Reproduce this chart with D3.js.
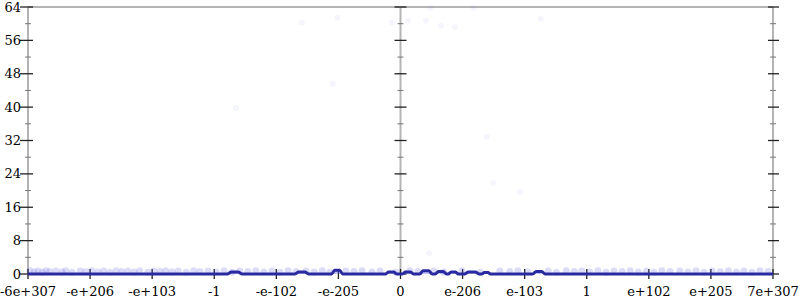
<!DOCTYPE html>
<html><head><meta charset="utf-8">
<script src="https://cdn.jsdelivr.net/npm/d3@7"></script>
<style>body{margin:0;background:#fff}svg{display:block}text{font-family:"DejaVu Serif",serif;font-size:13px;fill:#000}</style>
</head><body><svg id="c" width="800" height="300"></svg>
<script>
// x positions are given in tick-index units of the float-bit scale (0 = -6e+307 ... 12 = 7e+307)
const xTickLabels = ["-6e+307","-e+206","-e+103","-1","-e-102","-e-205","0","e-206","e-103","1","e+102","e+205","7e+307"];
const yMajorTicks = [0,8,16,24,32,40,48,56,64];
const yMinorTicks = [4,12,20,28,36,44,52,60];

// histogram bumps: [center, halfWidth, count]
const bumps = [
  [3.33,0.12,0.5],[4.41,0.11,0.5],[4.98,0.09,0.9],[5.85,0.09,0.5],[6.12,0.09,0.5],
  [6.41,0.1,0.8],[6.65,0.09,0.6],[6.85,0.08,0.5],[7.15,0.12,0.5],[7.38,0.07,0.35],[8.23,0.1,0.6]
];
// raw sample points: [x, y]
const outliers = [
  [3.35,39.8],[4.91,45.6],[7.39,32.9],[7.49,21.8],[7.93,19.7],[5.86,60.2],[6.12,60.7],
  [6.41,60.7],[6.65,59.5],[6.88,59.2],[6.48,63.8],[7.18,63.8],[4.41,60.2],[4.98,61.4],
  [8.26,61.2],[6.46,5.0]
];
const bandX = [0.03,0.10,0.16,0.23,0.29,0.35,0.45,0.55,0.61,0.71,0.84,0.93,1.03,1.13,1.22,1.32,1.42,1.51,1.61,1.71,1.80,1.93,2.03,2.13,2.22,2.32,2.42,2.55,2.67,2.77,2.90,3.03,3.16,3.29,3.41,3.54,3.67,3.80,3.93,4.06,4.19,4.32,4.48,4.61,4.74,4.86,5.12,5.25,5.38,5.54,5.67,5.93,6.15,6.28,6.54,6.70,6.99,7.28,7.60,7.76,7.89,8.05,8.38,8.51,8.67,8.80,8.92,9.05,9.18,9.31,9.44,9.57,9.70,9.83,9.96,10.08,10.21,10.34,10.50,10.63,10.76,10.89,11.02,11.15,11.28,11.41,11.53,11.66,11.79,11.92];
const bandY = [0.8,0.5,0.7,0.4,0.8,0.6,0.7,0.5,0.8,0.4,0.7,0.6,0.8,0.5,0.7,0.4,0.8,0.6,0.7,0.5,0.8,0.4,0.7,0.6,0.8,0.5,0.7,0.4,0.8,0.6,0.7,0.5,0.8,0.4,0.7,0.6,0.8,0.5,0.7,0.4,0.8,0.6,0.7,0.5,0.8,0.4,0.7,0.6,0.8,0.5,0.7,0.4,0.8,0.6,0.7,0.5,0.8,0.4,0.7,0.6,0.8,0.5,0.7,0.4,0.8,0.6,0.7,0.5,0.8,0.4,0.7,0.6,0.8,0.5,0.7,0.4,0.8,0.6,0.7,0.5,0.8,0.4,0.7,0.6,0.8,0.5,0.7,0.4,0.8,0.6];

const svg = d3.select("#c");
const L=28, R=773, T=7, B=274;
const x = d3.scaleLinear().domain([0,12]).range([L,R]);
const y = d3.scaleLinear().domain([0,64]).range([B,T]);
const grey="#b4b4b4";

// frame lines
svg.append("line").attr("x1",L).attr("x2",R).attr("y1",y(64)).attr("y2",y(64)).attr("stroke",grey).attr("stroke-width",2);
[0,6,12].forEach(v=>{
  svg.append("line").attr("x1",x(v)).attr("x2",x(v)).attr("y1",y(64)).attr("y2",y(0)).attr("stroke",grey).attr("stroke-width",2);
});
// y ticks on each vertical axis
[[0,8,5],[6,6,6],[12,5,6]].forEach(([v,lft,rgt])=>{
  const px=x(v);
  yMajorTicks.forEach(t=>svg.append("line").attr("x1",px-lft).attr("x2",px+rgt).attr("y1",y(t)).attr("y2",y(t)).attr("stroke","#222").attr("stroke-width",1.3));
  yMinorTicks.forEach(t=>svg.append("line").attr("x1",px-3).attr("x2",px+3).attr("y1",y(t)).attr("y2",y(t)).attr("stroke","#777").attr("stroke-width",1));
});
// y labels
svg.selectAll(".yl").data(yMajorTicks).enter().append("text")
  .attr("x",L-7).attr("y",d=>y(d)).attr("dy","0.35em").attr("text-anchor","end").text(d=>d);
// x ticks and labels
xTickLabels.forEach((lab,i)=>{
  svg.append("line").attr("x1",x(i)).attr("x2",x(i)).attr("y1",B-5).attr("y2",B+5).attr("stroke","#222").attr("stroke-width",1.3);
  svg.append("text").attr("x",x(i)).attr("y",296).attr("text-anchor","middle").text(lab);
});

// faint sample points
const dotFill="#5050e0";
svg.selectAll(".b").data(bandX).enter().append("circle")
  .attr("cx",d=>x(d)).attr("cy",(d,i)=>y(bandY[i])).attr("r",3.5).attr("fill",dotFill).attr("fill-opacity",0.2);
svg.selectAll(".o").data(outliers).enter().append("circle")
  .attr("cx",d=>x(d[0])).attr("cy",d=>y(d[1])).attr("r",3).attr("fill",dotFill).attr("fill-opacity",0.06);

// histogram outline built from the bump list
const histogram = [[0,0]];
bumps.forEach(([c,w,h])=>{ histogram.push([c-w,0],[c-w*0.45,h],[c+w*0.45,h],[c+w,0]); });
histogram.push([12,0]);
const area = d3.area().x(d=>x(d[0])).y0(y(0)).y1(d=>y(d[1])).curve(d3.curveMonotoneX);
const line = d3.line().x(d=>x(d[0])).y(d=>y(d[1])).curve(d3.curveMonotoneX);
svg.append("path").datum(histogram).attr("d",area).attr("fill","#4d4dff").attr("fill-opacity",0.35);
svg.append("path").datum(histogram).attr("d",line).attr("fill","none").attr("stroke","#2a2aa0").attr("stroke-width",3);
</script></body></html>
